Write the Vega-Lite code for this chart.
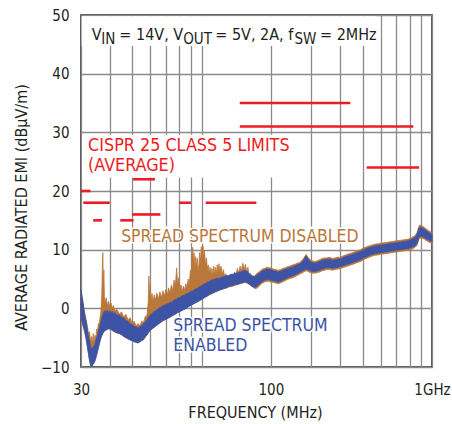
{
  "$schema": "https://vega.github.io/schema/vega-lite/v6.json",
  "width": 351,
  "height": 352,
  "autosize": "none",
  "padding": {"left": 81, "top": 15, "right": 20, "bottom": 57},
  "background": "white",
  "config": {
    "font": "'Liberation Sans Narrow', 'DejaVu Sans Condensed', 'Roboto Condensed', Roboto, sans-serif",
    "view": {"stroke": "#231f20", "strokeWidth": 1.5},
    "axis": {
      "gridColor": "#8a8a8a", "gridWidth": 1.3, "gridOpacity": 1,
      "domain": false, "ticks": false,
      "labelFontSize": 15, "labelColor": "#231f20",
      "titleFontSize": 16, "titleFontWeight": "normal", "titleColor": "#231f20"
    }
  },
  "datasets": {
    "one": [{"k": 1}],
    "disabled": [
      {"f":30,"lo":-2,"hi":3},{"f":30.3,"lo":-2,"hi":2},{"f":30.6,"lo":-3,"hi":1.2},{"f":30.9,"lo":-3.5,"hi":-0.2},{"f":31.2,"lo":-4.2,"hi":-1},{"f":31.5,"lo":-5,"hi":-1.8},{"f":31.8,"lo":-6,"hi":-2.5},{"f":32.1,"lo":-7,"hi":-3.5},{"f":32.4,"lo":-8,"hi":-4.5},{"f":32.7,"lo":-9,"hi":-4},{"f":33,"lo":-9.5,"hi":-5.8},{"f":33.3,"lo":-9.8,"hi":-4.8},{"f":33.6,"lo":-9.6,"hi":-6},{"f":33.9,"lo":-9.3,"hi":-4.3},{"f":34.2,"lo":-9,"hi":-5.8},{"f":34.5,"lo":-8.6,"hi":-4.6},{"f":34.8,"lo":-8,"hi":-5},{"f":35.1,"lo":-7.5,"hi":-3.5},{"f":35.4,"lo":-7,"hi":-3.8},{"f":35.7,"lo":-6.5,"hi":-2.5},{"f":36,"lo":-5.8,"hi":-2.8},{"f":36.3,"lo":-5.3,"hi":-1.5},{"f":36.6,"lo":-5,"hi":-0.5},{"f":36.9,"lo":-4.6,"hi":2},{"f":37.1,"lo":-4.4,"hi":6},{"f":37.3,"lo":-4.2,"hi":9.5},{"f":37.5,"lo":-4,"hi":4},{"f":37.7,"lo":-3.9,"hi":6.5},{"f":37.9,"lo":-3.8,"hi":2},{"f":38.2,"lo":-3.7,"hi":1},{"f":38.6,"lo":-3.6,"hi":1.8},{"f":39,"lo":-3.5,"hi":0.5},{"f":39.5,"lo":-3.5,"hi":1.2},{"f":40,"lo":-3.5,"hi":0.3},{"f":40.5,"lo":-3.6,"hi":0.9},{"f":41,"lo":-3.8,"hi":0},{"f":41.5,"lo":-3.9,"hi":0.5},{"f":42,"lo":-4,"hi":-0.4},{"f":43,"lo":-4.2,"hi":-0.2},{"f":44,"lo":-4.3,"hi":-1},{"f":45,"lo":-4.5,"hi":-0.6},{"f":46,"lo":-4.8,"hi":-1.5},{"f":47,"lo":-5,"hi":-1},{"f":48,"lo":-5.2,"hi":-2},{"f":49,"lo":-5.4,"hi":-1.6},{"f":50,"lo":-5.5,"hi":-2.6},{"f":51,"lo":-5.7,"hi":-2.2},{"f":52,"lo":-5.8,"hi":-3},{"f":53,"lo":-5.9,"hi":-2.6},{"f":54,"lo":-5.7,"hi":-3},{"f":55,"lo":-5.5,"hi":-2.2},{"f":56,"lo":-5.3,"hi":-2.4},{"f":57,"lo":-4.9,"hi":-1.4},{"f":58,"lo":-4.5,"hi":-1.2},{"f":58.7,"lo":-4.2,"hi":1},{"f":59.1,"lo":-4,"hi":5.5},{"f":59.5,"lo":-3.9,"hi":2},{"f":59.9,"lo":-3.8,"hi":4},{"f":60.4,"lo":-3.7,"hi":1.5},{"f":61,"lo":-3.5,"hi":2.5},{"f":61.7,"lo":-3.4,"hi":1.2},{"f":62.4,"lo":-3.2,"hi":2.3},{"f":63.2,"lo":-3,"hi":1.4},{"f":64,"lo":-2.8,"hi":2.6},{"f":65,"lo":-2.6,"hi":1.6},{"f":66,"lo":-2.4,"hi":2.8},{"f":67,"lo":-2.3,"hi":1.8},{"f":68,"lo":-2.1,"hi":3},{"f":69,"lo":-2,"hi":2.1},{"f":70,"lo":-1.9,"hi":3.2},{"f":71,"lo":-1.8,"hi":2.3},{"f":72,"lo":-1.6,"hi":3.5},{"f":73,"lo":-1.5,"hi":2.6},{"f":74,"lo":-1.3,"hi":4},{"f":75,"lo":-1.2,"hi":3},{"f":76,"lo":-1.1,"hi":4.8},{"f":77,"lo":-1,"hi":3.8},{"f":78,"lo":-0.8,"hi":6.9},{"f":78.8,"lo":-0.7,"hi":4},{"f":79.6,"lo":-0.6,"hi":5.2},{"f":80.5,"lo":-0.5,"hi":3.2},{"f":81.5,"lo":-0.4,"hi":4},{"f":82.5,"lo":-0.3,"hi":2.9},{"f":83.5,"lo":-0.2,"hi":3.8},{"f":84.5,"lo":-0.1,"hi":3},{"f":85.5,"lo":0,"hi":4.2},{"f":86.5,"lo":0.1,"hi":3.5},{"f":87.5,"lo":0.3,"hi":5},{"f":88.5,"lo":0.4,"hi":4.2},{"f":89.5,"lo":0.5,"hi":6.5},{"f":90.3,"lo":0.6,"hi":5},{"f":91,"lo":0.6,"hi":9},{"f":91.6,"lo":0.7,"hi":10.4},{"f":92.2,"lo":0.8,"hi":7.5},{"f":92.8,"lo":0.8,"hi":9.5},{"f":93.5,"lo":0.9,"hi":6.5},{"f":94.2,"lo":1,"hi":8.8},{"f":95,"lo":1,"hi":7},{"f":95.8,"lo":1.1,"hi":8.6},{"f":96.6,"lo":1.2,"hi":6.2},{"f":97.4,"lo":1.3,"hi":7.5},{"f":98.2,"lo":1.3,"hi":9.5},{"f":99,"lo":1.4,"hi":8},{"f":99.8,"lo":1.5,"hi":10.5},{"f":100.6,"lo":1.6,"hi":9},{"f":101.4,"lo":1.7,"hi":10.7},{"f":102.2,"lo":1.8,"hi":8.5},{"f":103,"lo":1.9,"hi":9.8},{"f":104,"lo":2,"hi":7.5},{"f":105,"lo":2.1,"hi":8.6},{"f":106,"lo":2.1,"hi":6.8},{"f":107,"lo":2.2,"hi":7.4},{"f":108,"lo":2.3,"hi":6},{"f":109,"lo":2.4,"hi":7},{"f":110,"lo":2.4,"hi":5.8},{"f":111,"lo":2.5,"hi":6.8},{"f":112,"lo":2.6,"hi":5.6},{"f":113,"lo":2.6,"hi":7.2},{"f":114,"lo":2.7,"hi":5.8},{"f":115,"lo":2.8,"hi":7},{"f":116,"lo":2.8,"hi":6},{"f":117,"lo":2.9,"hi":7.4},{"f":118,"lo":3,"hi":6.2},{"f":119,"lo":3,"hi":7.6},{"f":120,"lo":3.1,"hi":6.4},{"f":121.5,"lo":3.2,"hi":7.2},{"f":123,"lo":3.2,"hi":5.8},{"f":124.5,"lo":3.3,"hi":6.6},{"f":126,"lo":3.4,"hi":5.4},{"f":127.5,"lo":3.4,"hi":5.9},{"f":129,"lo":3.5,"hi":4.8},{"f":131,"lo":3.6,"hi":5.2},{"f":133,"lo":3.7,"hi":4.9},{"f":135,"lo":3.7,"hi":5.6},{"f":137,"lo":3.8,"hi":5.2},{"f":139,"lo":3.9,"hi":6.2},{"f":141,"lo":4,"hi":5.6},{"f":143,"lo":4,"hi":6.8},{"f":145,"lo":4.1,"hi":6},{"f":147,"lo":4.2,"hi":7.2},{"f":149,"lo":4.3,"hi":6.4},{"f":151,"lo":4.3,"hi":7.7},{"f":153,"lo":4.4,"hi":6.6},{"f":155,"lo":4.4,"hi":7.5},{"f":157,"lo":4.3,"hi":6.2},{"f":159,"lo":4.2,"hi":7},{"f":161,"lo":4.1,"hi":5.6},{"f":163,"lo":3.9,"hi":6},{"f":166,"lo":3.7,"hi":5.4},{"f":170,"lo":3.4,"hi":5.5},
      {"f":173,"lo":3.4,"hi":5.9},{"f":176,"lo":3.6,"hi":6.1},{"f":180,"lo":4,"hi":6.4},{"f":184,"lo":4.3,"hi":6.7},{"f":188,"lo":4.5,"hi":6.8},{"f":192,"lo":4.6,"hi":7},{"f":196,"lo":4.6,"hi":6.9},{"f":200,"lo":4.5,"hi":6.9},{"f":205,"lo":4.4,"hi":6.7},{"f":210,"lo":4.3,"hi":6.6},{"f":215,"lo":4.2,"hi":6.5},{"f":220,"lo":4.3,"hi":6.6},{"f":225,"lo":4.5,"hi":6.8},{"f":230,"lo":4.7,"hi":6.9},{"f":236,"lo":4.9,"hi":7.1},{"f":242,"lo":5.1,"hi":7.2},{"f":248,"lo":5.2,"hi":7.4},{"f":254,"lo":5.4,"hi":7.5},{"f":260,"lo":5.6,"hi":7.7},{"f":266,"lo":5.8,"hi":7.8},{"f":272,"lo":6,"hi":8.1},{"f":278,"lo":6.2,"hi":8.6},{"f":284,"lo":6.4,"hi":9.2},{"f":290,"lo":6.3,"hi":8.7},{"f":296,"lo":6.1,"hi":8.3},{"f":302,"lo":6,"hi":8.1},{"f":310,"lo":6,"hi":8},{"f":318,"lo":6.1,"hi":8.1},{"f":326,"lo":6.2,"hi":8.3},{"f":334,"lo":6.4,"hi":8.5},{"f":342,"lo":6.5,"hi":8.6},{"f":350,"lo":6.6,"hi":8.6},{"f":360,"lo":6.6,"hi":8.7},{"f":370,"lo":6.5,"hi":8.5},{"f":380,"lo":6.6,"hi":8.6},{"f":390,"lo":6.7,"hi":8.7},{"f":400,"lo":6.8,"hi":8.7},{"f":415,"lo":7,"hi":9},{"f":430,"lo":7.2,"hi":9.2},{"f":445,"lo":7.4,"hi":9.4},{"f":460,"lo":7.6,"hi":9.6},{"f":475,"lo":7.8,"hi":9.8},{"f":490,"lo":8,"hi":10},{"f":505,"lo":8.3,"hi":10.3},{"f":520,"lo":8.5,"hi":10.5},{"f":540,"lo":8.8,"hi":10.7},{"f":560,"lo":9,"hi":10.9},{"f":580,"lo":9.1,"hi":11},{"f":600,"lo":9.2,"hi":11.1},{"f":625,"lo":9.3,"hi":11.2},{"f":650,"lo":9.4,"hi":11.3},{"f":675,"lo":9.5,"hi":11.4},{"f":700,"lo":9.6,"hi":11.5},{"f":730,"lo":9.7,"hi":11.6},{"f":760,"lo":9.8,"hi":11.7},{"f":790,"lo":9.9,"hi":11.8},{"f":820,"lo":10.1,"hi":12.1},{"f":845,"lo":10.4,"hi":12.4},{"f":860,"lo":10.7,"hi":12.9},{"f":870,"lo":11.3,"hi":13.5},{"f":880,"lo":11.9,"hi":14.1},{"f":895,"lo":12,"hi":14.2},{"f":910,"lo":11.9,"hi":14},{"f":925,"lo":11.8,"hi":13.8},{"f":940,"lo":11.6,"hi":13.6},{"f":960,"lo":11.4,"hi":13.3},{"f":980,"lo":11.2,"hi":13.1},{"f":1000,"lo":11.1,"hi":12.9}
    ],
    "enabled": [
      {"f":30,"lo":-2,"hi":3.2},{"f":30.3,"lo":-2.2,"hi":2},{"f":30.6,"lo":-2.8,"hi":1},{"f":30.9,"lo":-3.5,"hi":-0.2},{"f":31.2,"lo":-4.2,"hi":-1.2},{"f":31.5,"lo":-5,"hi":-2},{"f":31.8,"lo":-6,"hi":-3},{"f":32.1,"lo":-7,"hi":-4},{"f":32.4,"lo":-8,"hi":-5},{"f":32.7,"lo":-9,"hi":-5.5},{"f":33,"lo":-9.7,"hi":-6.5},{"f":33.3,"lo":-10,"hi":-6.8},{"f":33.6,"lo":-9.8,"hi":-7},{"f":33.9,"lo":-9.5,"hi":-6.5},{"f":34.2,"lo":-9.3,"hi":-6.5},{"f":34.5,"lo":-9,"hi":-6},{"f":34.8,"lo":-8.5,"hi":-5.5},{"f":35.1,"lo":-8,"hi":-5},{"f":35.4,"lo":-7.4,"hi":-4.6},{"f":35.7,"lo":-6.8,"hi":-4},{"f":36,"lo":-6.2,"hi":-3.4},{"f":36.3,"lo":-5.6,"hi":-2.8},{"f":36.6,"lo":-5.1,"hi":-2.2},{"f":36.9,"lo":-4.7,"hi":-1.7},{"f":37.3,"lo":-4.3,"hi":-1.1},{"f":37.7,"lo":-4,"hi":-0.6},{"f":38.2,"lo":-3.8,"hi":-0.4},{"f":38.6,"lo":-3.7,"hi":-0.8},{"f":39,"lo":-3.6,"hi":-0.3},{"f":39.5,"lo":-3.5,"hi":-0.9},{"f":40,"lo":-3.5,"hi":-0.4},{"f":40.5,"lo":-3.6,"hi":-0.8},{"f":41,"lo":-3.7,"hi":-0.5},{"f":41.5,"lo":-3.9,"hi":-1},{"f":42,"lo":-4,"hi":-0.7},{"f":43,"lo":-4.2,"hi":-1.2},{"f":44,"lo":-4.3,"hi":-1.1},{"f":45,"lo":-4.5,"hi":-1.6},{"f":46,"lo":-4.8,"hi":-1.6},{"f":47,"lo":-5,"hi":-2.1},{"f":48,"lo":-5.2,"hi":-2.2},{"f":49,"lo":-5.4,"hi":-2.7},{"f":50,"lo":-5.5,"hi":-2.7},{"f":51,"lo":-5.7,"hi":-3.1},{"f":52,"lo":-5.8,"hi":-3.1},{"f":53,"lo":-5.9,"hi":-3.4},{"f":54,"lo":-5.7,"hi":-3.1},{"f":55,"lo":-5.5,"hi":-3},{"f":56,"lo":-5.3,"hi":-2.6},{"f":57,"lo":-4.9,"hi":-2.4},{"f":58,"lo":-4.5,"hi":-1.9},{"f":59,"lo":-4.1,"hi":-1.5},{"f":60,"lo":-3.7,"hi":-1.1},{"f":61,"lo":-3.5,"hi":-0.9},{"f":62,"lo":-3.3,"hi":-0.6},{"f":63,"lo":-3.1,"hi":-0.5},{"f":64,"lo":-2.9,"hi":-0.2},{"f":65,"lo":-2.7,"hi":-0.1},{"f":66,"lo":-2.5,"hi":0.2},{"f":67,"lo":-2.3,"hi":0.2},{"f":68,"lo":-2.1,"hi":0.5},{"f":69,"lo":-2,"hi":0.5},{"f":70,"lo":-1.9,"hi":0.7},{"f":71.5,"lo":-1.7,"hi":0.8},{"f":73,"lo":-1.5,"hi":1},{"f":74.5,"lo":-1.3,"hi":1.1},{"f":76,"lo":-1.1,"hi":1.4},{"f":77.5,"lo":-0.9,"hi":1.5},{"f":79,"lo":-0.7,"hi":1.8},{"f":80.5,"lo":-0.6,"hi":1.8},{"f":82,"lo":-0.4,"hi":2.1},{"f":84,"lo":-0.2,"hi":2.2},{"f":86,"lo":0,"hi":2.5},{"f":88,"lo":0.3,"hi":2.6},{"f":90,"lo":0.5,"hi":2.9},{"f":92,"lo":0.7,"hi":3},{"f":94,"lo":0.9,"hi":3.3},{"f":96,"lo":1.1,"hi":3.4},{"f":98,"lo":1.3,"hi":3.7},{"f":100,"lo":1.5,"hi":3.8},{"f":102,"lo":1.7,"hi":4.1},{"f":104,"lo":1.9,"hi":4.2},{"f":106,"lo":2.1,"hi":4.5},{"f":108,"lo":2.3,"hi":4.5},{"f":110,"lo":2.5,"hi":4.8},{"f":113,"lo":2.7,"hi":4.9},{"f":116,"lo":2.9,"hi":5.1},{"f":119,"lo":3.1,"hi":5.1},{"f":122,"lo":3.2,"hi":5.3},{"f":125,"lo":3.4,"hi":5.4},{"f":128,"lo":3.5,"hi":5.6},{"f":131,"lo":3.7,"hi":5.6},{"f":134,"lo":3.8,"hi":5.8},{"f":137,"lo":3.9,"hi":5.8},{"f":140,"lo":4,"hi":6},{"f":143,"lo":4.1,"hi":6},{"f":146,"lo":4.2,"hi":6.2},{"f":149,"lo":4.3,"hi":6.2},{"f":152,"lo":4.4,"hi":6.5},{"f":155,"lo":4.5,"hi":6.4},{"f":158,"lo":4.4,"hi":6.3},{"f":161,"lo":4.1,"hi":5.9},{"f":164,"lo":3.9,"hi":5.6},{"f":167,"lo":3.7,"hi":5.5},{"f":170,"lo":3.6,"hi":5.4},{"f":173,"lo":3.7,"hi":5.6},{"f":176,"lo":3.9,"hi":5.8},{"f":180,"lo":4.3,"hi":6.1},{"f":184,"lo":4.6,"hi":6.4},{"f":188,"lo":4.8,"hi":6.5},{"f":192,"lo":4.9,"hi":6.7},{"f":196,"lo":4.9,"hi":6.6},{"f":200,"lo":4.8,"hi":6.6},{"f":205,"lo":4.7,"hi":6.4},{"f":210,"lo":4.6,"hi":6.3},{"f":215,"lo":4.5,"hi":6.2},{"f":220,"lo":4.6,"hi":6.3},{"f":225,"lo":4.8,"hi":6.5},{"f":230,"lo":5,"hi":6.6},{"f":236,"lo":5.2,"hi":6.8},{"f":242,"lo":5.4,"hi":6.9},{"f":248,"lo":5.5,"hi":7.1},{"f":254,"lo":5.7,"hi":7.2},{"f":260,"lo":5.9,"hi":7.4},{"f":266,"lo":6.1,"hi":7.5},{"f":272,"lo":6.3,"hi":7.8},{"f":278,"lo":6.5,"hi":8.3},{"f":284,"lo":6.7,"hi":8.9},{"f":290,"lo":6.6,"hi":8.4},{"f":296,"lo":6.4,"hi":8},{"f":302,"lo":6.3,"hi":7.8},{"f":310,"lo":6.3,"hi":7.7},{"f":318,"lo":6.4,"hi":7.8},{"f":326,"lo":6.5,"hi":8},{"f":334,"lo":6.7,"hi":8.2},{"f":342,"lo":6.8,"hi":8.3},{"f":350,"lo":6.9,"hi":8.3},{"f":360,"lo":6.9,"hi":8.4},{"f":370,"lo":6.8,"hi":8.2},{"f":380,"lo":6.9,"hi":8.3},{"f":390,"lo":7,"hi":8.4},{"f":400,"lo":7.1,"hi":8.4},{"f":415,"lo":7.3,"hi":8.7},{"f":430,"lo":7.5,"hi":8.9},{"f":445,"lo":7.7,"hi":9.1},{"f":460,"lo":7.9,"hi":9.3},{"f":475,"lo":8.1,"hi":9.5},{"f":490,"lo":8.3,"hi":9.7},{"f":505,"lo":8.6,"hi":10},{"f":520,"lo":8.8,"hi":10.2},{"f":540,"lo":9.1,"hi":10.4},{"f":560,"lo":9.3,"hi":10.6},{"f":580,"lo":9.4,"hi":10.7},{"f":600,"lo":9.5,"hi":10.8},{"f":625,"lo":9.6,"hi":10.9},{"f":650,"lo":9.7,"hi":11},{"f":675,"lo":9.8,"hi":11.1},{"f":700,"lo":9.9,"hi":11.2},{"f":730,"lo":10,"hi":11.3},{"f":760,"lo":10.1,"hi":11.4},{"f":790,"lo":10.2,"hi":11.5},{"f":820,"lo":10.4,"hi":11.8},{"f":845,"lo":10.7,"hi":12.1},{"f":860,"lo":11,"hi":12.6},{"f":870,"lo":11.6,"hi":13.2},{"f":880,"lo":12.2,"hi":13.8},{"f":895,"lo":12.3,"hi":13.8},{"f":910,"lo":12.2,"hi":13.7},{"f":925,"lo":12.1,"hi":13.5},{"f":940,"lo":11.9,"hi":13.3},{"f":960,"lo":11.7,"hi":13},{"f":980,"lo":11.5,"hi":12.8},{"f":1000,"lo":11.4,"hi":12.6}
    ],
    "limits": [
      {"f1":30,"f2":33,"v":20},{"f1":30.7,"f2":40,"v":18},{"f1":33.9,"f2":37,"v":15},{"f1":44.4,"f2":50.7,"v":15},{"f1":50.5,"f2":62.8,"v":22},{"f1":50,"f2":66.3,"v":16},{"f1":79.8,"f2":90,"v":18},{"f1":104.3,"f2":173,"v":18},{"f1":521,"f2":879,"v":24},{"f1":146.5,"f2":442,"v":35},{"f1":146.5,"f2":830,"v":31}
    ]
  },
  "layer": [
    {
      "data": {"name": "disabled"},
      "mark": {"type": "area", "color": "#b9773a", "stroke": "#b9773a", "strokeWidth": 0.8},
      "encoding": {
        "x": {"field": "f", "type": "quantitative",
          "scale": {"type": "log", "domain": [30, 1000], "nice": false},
          "axis": {"title": "FREQUENCY (MHz)", "values": [30,40,50,60,70,80,90,100,200,300,400,500,600,700,800,900,1000],
            "labelExpr": "datum.value == 30 ? '30' : datum.value == 200 ? '100' : datum.value == 1000 ? '1GHz' : ''",
            "labelOverlap": false, "labelFlush": false, "labelBound": false, "labelPadding": 15,
            "titleX": 174, "titleY": 50, "titleBaseline": "alphabetic", "titleAlign": "center"}},
        "y": {"field": "lo", "type": "quantitative",
          "scale": {"domain": [-10, 50], "nice": false, "zero": false},
          "axis": {"title": "AVERAGE RADIATED EMI (dBμV/m)", "values": [-10,0,10,20,30,40,50], "labelPadding": 12,
            "titleX": -60, "titleY": 192, "titleAngle": 270, "titleAlign": "center", "titleBaseline": "middle"}},
        "y2": {"field": "hi"}
      }
    },
    {
      "data": {"name": "enabled"},
      "mark": {"type": "area", "color": "#3d54a6", "stroke": "#3d54a6", "strokeWidth": 0.8},
      "encoding": {
        "x": {"field": "f", "type": "quantitative"},
        "y": {"field": "lo", "type": "quantitative"},
        "y2": {"field": "hi"}
      }
    },
    {
      "data": {"name": "one"},
      "mark": {"type": "rect", "color": "white"},
      "encoding": {"x": {"datum": 30.2}, "x2": {"datum": 570}, "y": {"datum": 49.8}, "y2": {"datum": 44.7}}
    },
    {
      "data": {"name": "one"},
      "mark": {"type": "rect", "color": "white"},
      "encoding": {"x": {"datum": 30.3}, "x2": {"datum": 240}, "y": {"datum": 29.6}, "y2": {"datum": 22.3}}
    },
    {
      "data": {"name": "limits"},
      "mark": {"type": "rule", "color": "#ec1c24", "strokeWidth": 2.6},
      "encoding": {
        "x": {"field": "f1", "type": "quantitative"},
        "x2": {"field": "f2"},
        "y": {"field": "v", "type": "quantitative"}
      }
    },
    {
      "data": {"name": "one"},
      "mark": {"type": "text", "align": "left", "baseline": "alphabetic", "fontSize": 16, "color": "#231f20"},
      "encoding": {"x": {"datum": 33.4}, "y": {"datum": 45.8}, "text": {"value": "V"}}
    },
    {
      "data": {"name": "one"},
      "mark": {"type": "text", "align": "left", "baseline": "alphabetic", "fontSize": 15, "color": "#231f20"},
      "encoding": {"x": {"datum": 36.73}, "y": {"datum": 45.05}, "text": {"value": "IN"}}
    },
    {
      "data": {"name": "one"},
      "mark": {"type": "text", "align": "left", "baseline": "alphabetic", "fontSize": 16, "color": "#231f20"},
      "encoding": {"x": {"datum": 44.0}, "y": {"datum": 45.8}, "text": {"value": "= 14V, V"}}
    },
    {
      "data": {"name": "one"},
      "mark": {"type": "text", "align": "left", "baseline": "alphabetic", "fontSize": 15, "color": "#231f20"},
      "encoding": {"x": {"datum": 83.3}, "y": {"datum": 45.05}, "text": {"value": "OUT"}}
    },
    {
      "data": {"name": "one"},
      "mark": {"type": "text", "align": "left", "baseline": "alphabetic", "fontSize": 16, "color": "#231f20"},
      "encoding": {"x": {"datum": 114.8}, "y": {"datum": 45.8}, "text": {"value": "= 5V, 2A, f"}}
    },
    {
      "data": {"name": "one"},
      "mark": {"type": "text", "align": "left", "baseline": "alphabetic", "fontSize": 15, "color": "#231f20"},
      "encoding": {"x": {"datum": 253.1}, "y": {"datum": 45.05}, "text": {"value": "SW"}}
    },
    {
      "data": {"name": "one"},
      "mark": {"type": "text", "align": "left", "baseline": "alphabetic", "fontSize": 16, "color": "#231f20"},
      "encoding": {"x": {"datum": 326.7}, "y": {"datum": 45.8}, "text": {"value": "= 2MHz"}}
    },
    {
      "data": {"name": "one"},
      "mark": {"type": "text", "align": "left", "baseline": "alphabetic", "fontSize": 17.8, "color": "#ec1c24"},
      "encoding": {"x": {"datum": 32.2}, "y": {"datum": 26.76}, "text": {"value": "CISPR 25 CLASS 5 LIMITS"}}
    },
    {
      "data": {"name": "one"},
      "mark": {"type": "text", "align": "left", "baseline": "alphabetic", "fontSize": 17.8, "color": "#ec1c24"},
      "encoding": {"x": {"datum": 32.2}, "y": {"datum": 23.35}, "text": {"value": "(AVERAGE)"}}
    },
    {
      "data": {"name": "one"},
      "mark": {"type": "text", "align": "left", "baseline": "alphabetic", "fontSize": 17.4, "color": "#b9773a", "stroke": "white", "strokeWidth": 3},
      "encoding": {"x": {"datum": 44.8}, "y": {"datum": 11.23}, "text": {"value": "SPREAD SPECTRUM DISABLED"}}
    },
    {
      "data": {"name": "one"},
      "mark": {"type": "text", "align": "left", "baseline": "alphabetic", "fontSize": 17.4, "color": "#b9773a"},
      "encoding": {"x": {"datum": 44.8}, "y": {"datum": 11.23}, "text": {"value": "SPREAD SPECTRUM DISABLED"}}
    },
    {
      "data": {"name": "one"},
      "mark": {"type": "text", "align": "left", "baseline": "alphabetic", "fontSize": 17.5, "color": "#3d54a6", "stroke": "white", "strokeWidth": 3},
      "encoding": {"x": {"datum": 75.4}, "y": {"datum": -3.84}, "text": {"value": "SPREAD SPECTRUM"}}
    },
    {
      "data": {"name": "one"},
      "mark": {"type": "text", "align": "left", "baseline": "alphabetic", "fontSize": 17.5, "color": "#3d54a6", "stroke": "white", "strokeWidth": 3},
      "encoding": {"x": {"datum": 75.4}, "y": {"datum": -7.25}, "text": {"value": "ENABLED"}}
    },
    {
      "data": {"name": "one"},
      "mark": {"type": "text", "align": "left", "baseline": "alphabetic", "fontSize": 17.5, "color": "#3d54a6"},
      "encoding": {"x": {"datum": 75.4}, "y": {"datum": -3.84}, "text": {"value": "SPREAD SPECTRUM"}}
    },
    {
      "data": {"name": "one"},
      "mark": {"type": "text", "align": "left", "baseline": "alphabetic", "fontSize": 17.5, "color": "#3d54a6"},
      "encoding": {"x": {"datum": 75.4}, "y": {"datum": -7.25}, "text": {"value": "ENABLED"}}
    }
  ]
}
